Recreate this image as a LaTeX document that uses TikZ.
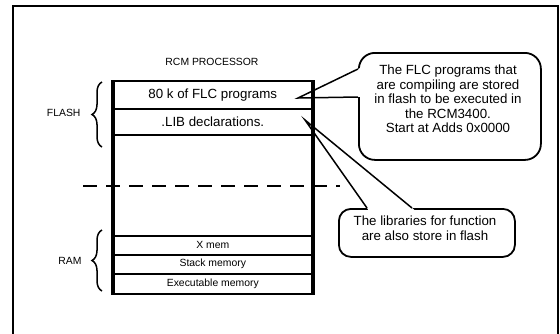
\documentclass[tikz,border=0pt]{standalone}
\usepackage{fontspec}
\setmainfont{Liberation Sans}
\usetikzlibrary{decorations.pathreplacing,calc}
\begin{document}
\begin{tikzpicture}[x=1pt,y=-1pt,
  framestyle/.style={line width=2pt},
  rowbox/.style={draw, line width=1.6pt, minimum width=198pt, inner sep=0pt, anchor=north west},
  bigtxt/.style={font=\fontsize{13.3}{14.5}\selectfont},
  smalltxt/.style={font=\fontsize{10.4}{12}\selectfont},
  callbox/.style={draw, line width=1.8pt, fill=white, inner sep=0pt, anchor=north west},
  pointer/.style={line width=1.5pt},
  bracestyle/.style={decorate, decoration={brace, amplitude=10pt}, line width=1.5pt},
  sepline/.style={line width=2pt, dash pattern=on 14pt off 9pt},
]
\useasboundingbox (0,0) rectangle (560,333);
\clip (0,0) rectangle (560,333);
% outer frame (open at the bottom, cut by the page)
\coordinate (fa) at (13,345);
\coordinate (fb) at (13,6);
\coordinate (fc) at (557.5,6);
\coordinate (fd) at (557.5,345);
\draw[framestyle] (fa) -- (fb) -- (fc) -- (fd);

% callout 1
\node[callbox, rounded corners=16pt, minimum width=182pt, minimum height=107pt] (c1) at (358,52) {};
\coordinate (t1) at (298,98);
\coordinate (b1a) at (358,69);
\coordinate (b1b) at (358,97);
\fill[white] (t1) -- ($(t1)!1.04!(b1a)$) -- ($(t1)!1.04!(b1b)$) -- cycle;
\draw[pointer] (b1a) -- (t1) -- (b1b);
\node[bigtxt, align=center] (c1t) at (448,99) {The FLC programs that\\are compiling are stored\\in flash to be executed in\\the RCM3400.\\Start at Adds 0x0000};

% callout 2
\node[callbox, rounded corners=12pt, minimum width=176pt, minimum height=48pt] (c2) at (338,208) {};
\coordinate (t2) at (305,120);
\coordinate (b2a) at (367,208);
\coordinate (b2b) at (412,208);
\fill[white] (t2) -- ($(t2)!1.03!(b2a)$) -- ($(t2)!1.03!(b2b)$) -- cycle;
\draw[pointer] (b2a) -- (t2) -- (b2b);
\node[bigtxt, align=center] (c2t) at (425,228) {The libraries for function\\are also store in flash};

% processor
\node[smalltxt] (title) at (212,62) {RCM PROCESSOR};
\node[rowbox, minimum height=28pt, bigtxt] (r1) at (113,80) {80 k of FLC programs};
\node[rowbox, minimum height=26pt, bigtxt] (r2) at (113,108) {.LIB declarations.};
\node[rowbox, minimum height=19pt, smalltxt] (xm) at (113,235) {X mem};
\node[rowbox, minimum height=19pt, smalltxt] (sm) at (113,254) {Stack memory};
\node[rowbox, minimum height=20pt, smalltxt] (em) at (113,273) {Executable memory};
\node[draw, line width=2.2pt, minimum width=198pt, minimum height=213pt, inner sep=0pt, anchor=north west] (proc) at (113,80) {};
\draw[line width=3.6pt] (proc.north west) -- (proc.south west);
\draw[line width=3.6pt] (proc.north east) -- (proc.south east);

% separator
\coordinate (d1) at (83,186);
\coordinate (d2) at (340,186);
\draw[sepline] (d1) -- (d2);

% braces
\coordinate (fl1) at (102,147);
\coordinate (fl2) at (102,82);
\draw[bracestyle] (fl1) -- (fl2);
\node[smalltxt, anchor=east] (flash) at (84,113) {FLASH};
\coordinate (ra1) at (102,291);
\coordinate (ra2) at (102,230);
\draw[bracestyle] (ra1) -- (ra2);
\node[smalltxt, anchor=east] (ram) at (85,261) {RAM};
\end{tikzpicture}
\end{document}
